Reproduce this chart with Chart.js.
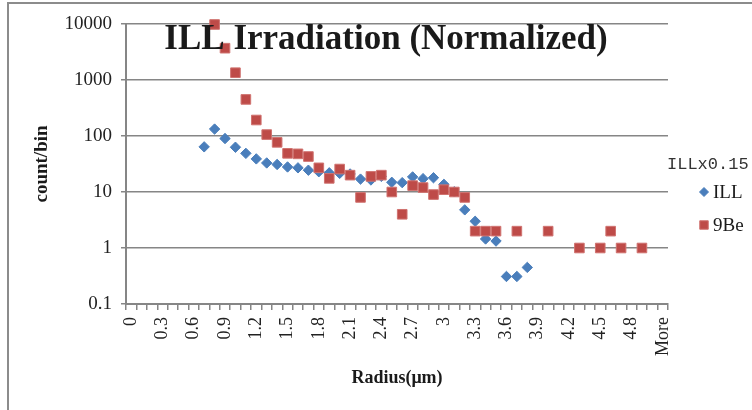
<!DOCTYPE html>
<html>
<head>
<meta charset="utf-8">
<script src="https://cdn.jsdelivr.net/npm/chart.js@4/dist/chart.umd.min.js"></script>
<style>
  html, body { margin: 0; padding: 0; background: #fff; overflow: hidden; }
  #wrap { position: relative; width: 752px; height: 410px; }
  #frame { position: absolute; left: 7px; top: 2px; width: 800px; height: 500px; border: 2px solid #8c8c8c; }
  #c { position: absolute; left: 0; top: 0; }
</style>
</head>
<body>
<div id="wrap">
  <div id="frame"></div>
  <canvas id="c" width="752" height="410"></canvas>
</div>
<script>
// Radius bins (µm), as Excel's histogram labels them
const radiusBins = ['0', '0.1', '0.2', '0.3', '0.4', '0.5', '0.6', '0.7', '0.8', '0.9',
    '1', '1.1', '1.2', '1.3', '1.4', '1.5', '1.6', '1.7', '1.8', '1.9',
    '2', '2.1', '2.2', '2.3', '2.4', '2.5', '2.6', '2.7', '2.8', '2.9',
    '3', '3.1', '3.2', '3.3', '3.4', '3.5', '3.6', '3.7', '3.8', '3.9',
    '4', '4.1', '4.2', '4.3', '4.4', '4.5', '4.6', '4.7', '4.8', '4.9',
    '5', 'More'];

// ILL (scaled x0.15), counts per bin
const illCounts = [null, null, null, null, null, null, null, 64, 133, 90,
    63, 49, 39, 33, 31, 28, 27, 24.5, 23, 22,
    21.5, 21, 17, 16.4, 19, 14.9, 14.7, 18.6, 17.3, 18,
    13.7, 10.1, 4.8, 3.0, 1.45, 1.33, 0.31, 0.31, 0.45, null,
    null, null, null, null, null, null, null, null, null, null,
    null, null];

// 9Be counts per bin
const beCounts = [null, null, null, null, null, null, null, null, 9800, 3700,
    1350, 450, 193, 106, 77, 49, 48, 43, 27, 17.5,
    25.7, 20, 8, 19, 20, 10, 4, 13, 12, 9,
    11, 10, 8, 2, 2, 2, null, 2, null, null,
    2, null, null, 1, null, 1, 2, 1, null, 1,
    null, null];

const yTicks = [0.1, 1, 10, 100, 1000, 10000];

const gridGray = '#868686';
const serif = '"Liberation Serif", "Times New Roman", serif';

// Title and legend are drawn over the plot like the Excel original
const overlayPlugin = {
    id: 'overlay',
    afterDraw(chart) {
        const ctx = chart.ctx;
        ctx.save();
        ctx.fillStyle = '#1a1a1a';
        ctx.font = 'bold 35px ' + serif;
        ctx.textAlign = 'center';
        ctx.textBaseline = 'middle';
        ctx.fillText('ILL Irradiation (Normalized)', 386, 40);

        ctx.textAlign = 'left';
        ctx.font = '17px "Liberation Mono", monospace';
        ctx.fillStyle = '#333';
        ctx.fillText('ILLx0.15', 667, 164);

        ctx.font = '19px ' + serif;
        chart.data.datasets.forEach((ds, i) => {
            const y = 192 + i * 33;
            ctx.fillStyle = ds.backgroundColor;
            ctx.strokeStyle = ds.borderColor;
            Chart.helpers.drawPoint(ctx, {
                pointStyle: ds.pointStyle,
                radius: ds.pointStyle === 'rect' ? 6 : 4.5,
                rotation: 0,
                borderWidth: 1
            }, 704, y);
            ctx.fillStyle = '#1a1a1a';
            ctx.fillText(ds.label, 713, y + 1);
        });
        ctx.restore();
    }
};

const chartConfig = {
    type: 'line',
    data: {
        labels: radiusBins,
        datasets: [{
            label: 'ILL',
            data: illCounts,
            showLine: false,
            clip: false,
            pointStyle: 'rectRot',
            pointRadius: 5.2,
            backgroundColor: '#4A7EBB',
            borderColor: '#4A7EBB',
            pointBorderWidth: 1,
            order: 1
        }, {
            label: '9Be',
            data: beCounts,
            showLine: false,
            clip: false,
            pointStyle: 'rect',
            pointRadius: 6.8,
            backgroundColor: '#BE4B48',
            borderColor: '#D07370',
            pointBorderWidth: 1,
            order: 0
        }]
    },
    options: {
        responsive: false,
        animation: false,
        events: [],
        layout: { padding: { top: 24, right: 84, bottom: 0, left: 0 } },
        plugins: {
            legend: { display: false },
            tooltip: { enabled: false }
        },
        scales: {
            x: {
                type: 'category',
                offset: true,
                afterFit(scale) { scale.height = 106; },
                grid: {
                    offset: true,
                    drawOnChartArea: false,
                    drawTicks: true,
                    tickLength: 6,
                    color: gridGray,
                    lineWidth: 1.5
                },
                border: { color: gridGray, width: 2 },
                ticks: {
                    autoSkip: false,
                    minRotation: 90,
                    maxRotation: 90,
                    padding: 7,
                    color: '#222',
                    font: { size: 18, family: serif },
                    callback(value, index) {
                        return index % 3 === 0 ? this.getLabelForValue(value) : '';
                    }
                },
                title: {
                    display: true,
                    text: 'Radius(μm)',
                    color: '#1a1a1a',
                    font: { size: 18, family: serif, weight: 'bold' },
                    padding: { top: 0, bottom: 21 }
                }
            },
            y: {
                type: 'logarithmic',
                min: 0.1,
                max: 10000,
                afterFit(scale) { scale.width = 126; },
                afterBuildTicks(scale) {
                    scale.ticks = yTicks.map(v => ({ value: v }));
                },
                grid: {
                    color: gridGray,
                    lineWidth: 1.5,
                    tickLength: 5
                },
                border: { color: gridGray, width: 2 },
                ticks: {
                    padding: 9,
                    color: '#222',
                    font: { size: 19, family: serif },
                    callback: value => String(value)
                },
                title: {
                    display: true,
                    text: 'count/bin',
                    color: '#1a1a1a',
                    font: { size: 19, family: serif, weight: 'bold' },
                    padding: { top: 31, bottom: 0 }
                }
            }
        }
    },
    plugins: [overlayPlugin]
};

new Chart(document.getElementById('c'), chartConfig);
</script>
</body>
</html>
